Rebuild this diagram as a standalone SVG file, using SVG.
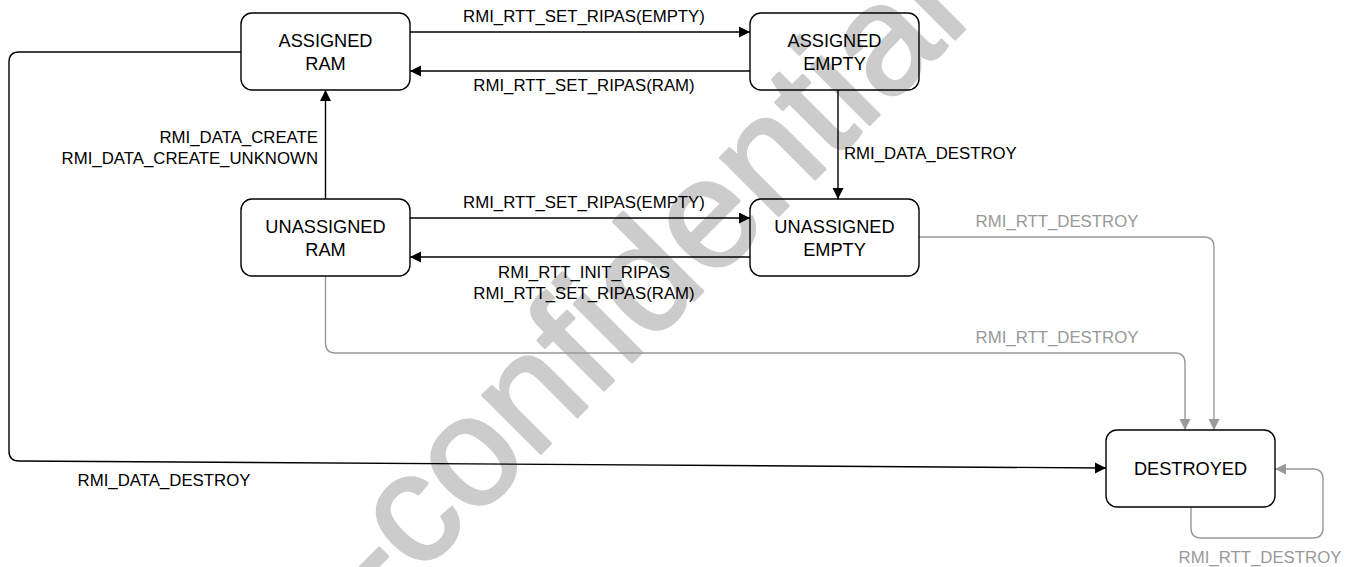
<svg xmlns="http://www.w3.org/2000/svg" width="1357" height="567" viewBox="0 0 1357 567">
<defs>
<style>
.node rect{fill:none;stroke:#000;stroke-width:1.4}
.nt{font-family:"Liberation Sans",Arial,sans-serif;font-size:18.2px;fill:#000;text-anchor:middle}
.lb{font-family:"Liberation Sans",Arial,sans-serif;font-size:16.8px;fill:#000}
.lg{font-family:"Liberation Sans",Arial,sans-serif;font-size:16.8px;fill:#999}
.e{fill:none;stroke:#000;stroke-width:1.4}
.g{fill:none;stroke:#999;stroke-width:1.4}
.wm{font-family:"Liberation Sans",Arial,sans-serif;font-size:155px;fill:#cccccc;stroke:#cccccc;stroke-width:3;stroke-linejoin:round}
</style>
<marker id="ab" markerUnits="userSpaceOnUse" markerWidth="12" markerHeight="12" refX="11" refY="5.5" orient="auto">
<path d="M0,0 L11,5.5 L0,11 z" fill="#000"/>
</marker>
<marker id="ag" markerUnits="userSpaceOnUse" markerWidth="12" markerHeight="12" refX="11" refY="5.5" orient="auto">
<path d="M0,0 L11,5.5 L0,11 z" fill="#999"/>
</marker>
</defs>
<rect width="1357" height="567" fill="#fff"/>
<text class="wm" x="381" y="613" transform="rotate(-45 381 613)">-confidential</text>
<g id="connectors">
<path class="e" d="M410,32 H750" marker-end="url(#ab)"/>
<path class="e" d="M750,71 H410" marker-end="url(#ab)"/>
<path class="e" d="M325.5,199 V90" marker-end="url(#ab)"/>
<path class="e" d="M838,90 V199" marker-end="url(#ab)"/>
<path class="e" d="M410,218 H750" marker-end="url(#ab)"/>
<path class="e" d="M750,257 H410" marker-end="url(#ab)"/>
<path class="g" d="M919,237 H1204 Q1214,237 1214,247 V430" marker-end="url(#ag)"/>
<path class="g" d="M325.5,276 V343 Q325.5,353 335.5,353 H1175 Q1185,353 1185,363 V430" marker-end="url(#ag)"/>
<path class="e" d="M241,52 H19 Q9,52 9,62 V451 Q9,461 19,461 L1106,468" marker-end="url(#ab)"/>
<path class="g" d="M1191,507 V528 Q1191,538 1201,538 H1313 Q1323,538 1323,528 V479 Q1323,469 1313,469 H1275" marker-end="url(#ag)"/>
<text class="lb" x="584" y="22" text-anchor="middle">RMI_RTT_SET_RIPAS(EMPTY)</text>
<text class="lb" x="584" y="91" text-anchor="middle">RMI_RTT_SET_RIPAS(RAM)</text>
<text class="lb" x="318" y="143" text-anchor="end">RMI_DATA_CREATE</text>
<text class="lb" x="318" y="164" text-anchor="end">RMI_DATA_CREATE_UNKNOWN</text>
<text class="lb" x="844" y="159">RMI_DATA_DESTROY</text>
<text class="lb" x="584" y="208" text-anchor="middle">RMI_RTT_SET_RIPAS(EMPTY)</text>
<text class="lb" x="584" y="278" text-anchor="middle">RMI_RTT_INIT_RIPAS</text>
<text class="lb" x="584" y="299" text-anchor="middle">RMI_RTT_SET_RIPAS(RAM)</text>
<text class="lg" x="1057" y="227" text-anchor="middle">RMI_RTT_DESTROY</text>
<text class="lg" x="1057" y="343" text-anchor="middle">RMI_RTT_DESTROY</text>
<text class="lb" x="164" y="486" text-anchor="middle">RMI_DATA_DESTROY</text>
<text class="lg" x="1260" y="563" text-anchor="middle">RMI_RTT_DESTROY</text>
</g>
<g id="assigned-ram" class="node">
<rect x="241" y="13" width="169" height="77" rx="11"/>
<text class="nt" x="325.5" y="46.5">ASSIGNED</text>
<text class="nt" x="325.5" y="69.5">RAM</text>
</g>
<g id="assigned-empty" class="node">
<rect x="750" y="13" width="169" height="77" rx="11"/>
<text class="nt" x="834.5" y="46.5">ASSIGNED</text>
<text class="nt" x="834.5" y="69.5">EMPTY</text>
</g>
<g id="unassigned-ram" class="node">
<rect x="241" y="199" width="169" height="77" rx="11"/>
<text class="nt" x="325.5" y="232.5">UNASSIGNED</text>
<text class="nt" x="325.5" y="255.5">RAM</text>
</g>
<g id="unassigned-empty" class="node">
<rect x="750" y="199" width="169" height="77" rx="11"/>
<text class="nt" x="834.5" y="232.5">UNASSIGNED</text>
<text class="nt" x="834.5" y="255.5">EMPTY</text>
</g>
<g id="destroyed" class="node">
<rect x="1106" y="430" width="169" height="77" rx="11"/>
<text class="nt" x="1190.5" y="475">DESTROYED</text>
</g>
</svg>
